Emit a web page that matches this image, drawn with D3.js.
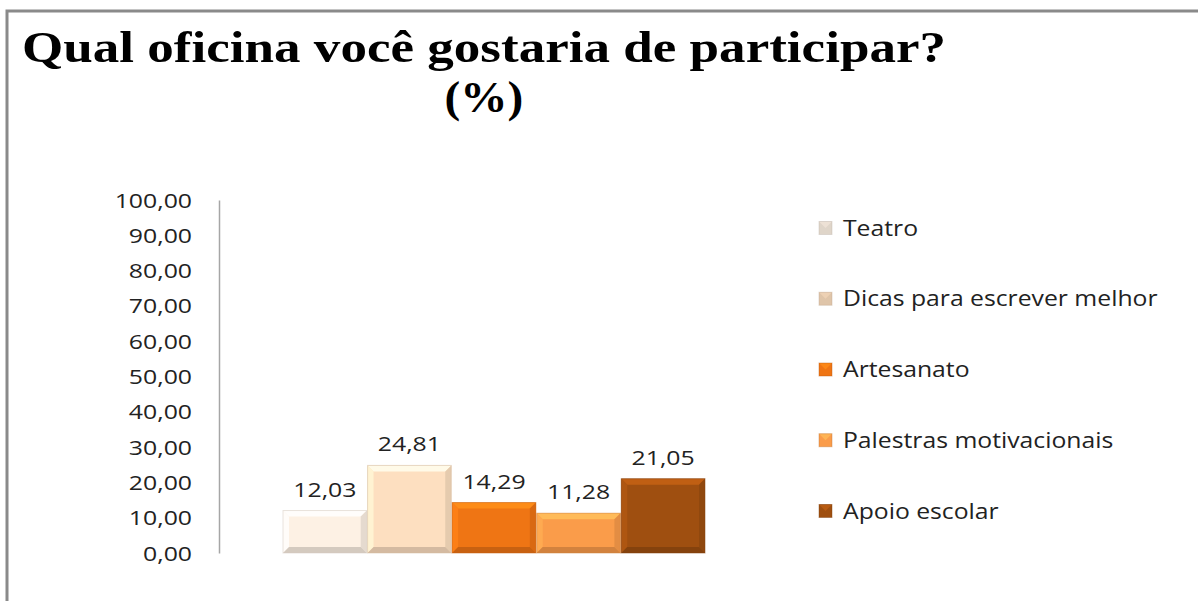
<!DOCTYPE html>
<html><head><meta charset="utf-8">
<script src="https://cdn.jsdelivr.net/npm/d3@7"></script>
<style>body{margin:0;background:#fff}svg{display:block}</style>
</head><body>
<svg id="c" width="1198" height="601"></svg>
<script>
const categories = ["Teatro","Dicas para escrever melhor","Artesanato","Palestras motivacionais","Apoio escolar"];
const values = [12.03, 24.81, 14.29, 11.28, 21.05];
const colors = ["#FDF1E4","#FDDFC0","#EF7514","#FA9C4A","#9F4F10"];
const yTicks = [0,10,20,30,40,50,60,70,80,90,100];
const titleLines = ["Qual oficina você gostaria de participar?","(%)"];

const svg = d3.select("#c");
const loc = d3.formatLocale({decimal:",",thousands:".",grouping:[3],currency:["",""]});
const fmt = loc.format(".2f");

function stretch(sel,k){
  sel.each(function(){
    const w=this.getComputedTextLength();
    this.setAttribute("textLength",w*k);
    this.setAttribute("lengthAdjust","spacingAndGlyphs");
  });
}

// frame
svg.append("path").attr("d","M7,601 L7,11 L1198,11")
  .attr("fill","none").attr("stroke","#8a8a8a").attr("stroke-width",3);

// title
const t1 = svg.append("text").attr("x",484).attr("y",62).attr("text-anchor","middle")
  .attr("font-family","Liberation Serif, Times New Roman, serif").attr("font-weight","bold")
  .attr("font-size",45).attr("fill","#000").text(titleLines[0]);
t1.attr("textLength",924).attr("lengthAdjust","spacingAndGlyphs");
const t2 = svg.append("text").attr("x",484).attr("y",112).attr("text-anchor","middle")
  .attr("font-family","Liberation Serif, Times New Roman, serif").attr("font-weight","bold")
  .attr("font-size",45).attr("fill","#000").text(titleLines[1]);
stretch(t2,1.05);

// scales
const y = d3.scaleLinear().domain([0,100]).range([553,200]);
const x = d3.scaleBand().domain(categories).range([283,705]).paddingInner(0.01);

// axis
const axisG = svg.append("g").attr("transform","translate(219,0)")
  .call(d3.axisLeft(y).tickValues(yTicks).tickFormat(fmt).tickSize(0).tickPadding(27));
axisG.select(".domain").attr("stroke","#a6a6a6").attr("stroke-width",1.5);
axisG.selectAll("text").attr("font-family","Open Sans, sans-serif").attr("font-size",20)
  .attr("fill","#222").attr("dy","0.35em").call(stretch,1.24);

// bars with bevel
const bev = 6;
const bars = svg.append("g");
categories.forEach((c,i)=>{
  const x0=x(c), x1=x(c)+x.bandwidth(), y0=y(values[i]), y1=y(0);
  const col=d3.color(colors[i]);
  const g=bars.append("g");
  g.append("rect").attr("x",x0).attr("y",y0).attr("width",x1-x0).attr("height",y1-y0).attr("fill",colors[i]);
  const pts=(a)=>a.map(p=>p.join(",")).join(" ");
  g.append("polygon").attr("points",pts([[x0,y0],[x1,y0],[x1-bev,y0+bev],[x0+bev,y0+bev]]))
    .attr("fill",col.brighter(0.6)).attr("opacity",0.85);
  g.append("polygon").attr("points",pts([[x0,y0],[x0+bev,y0+bev],[x0+bev,y1-bev],[x0,y1]]))
    .attr("fill",col.brighter(0.3)).attr("opacity",0.8);
  g.append("polygon").attr("points",pts([[x1,y0],[x1,y1],[x1-bev,y1-bev],[x1-bev,y0+bev]]))
    .attr("fill",col.darker(0.35)).attr("opacity",0.8);
  g.append("polygon").attr("points",pts([[x0,y1],[x0+bev,y1-bev],[x1-bev,y1-bev],[x1,y1]]))
    .attr("fill",col.darker(0.6)).attr("opacity",0.85);
  g.append("rect").attr("x",x0).attr("y",y0).attr("width",x1-x0).attr("height",y1-y0)
    .attr("fill","none").attr("stroke",col.darker(0.5)).attr("stroke-opacity",0.5).attr("stroke-width",1);
});

// value labels
svg.append("g").selectAll("text").data(values).join("text")
  .attr("x",(d,i)=>x(categories[i])+x.bandwidth()/2)
  .attr("y",d=>y(d)-14)
  .attr("text-anchor","middle").attr("font-family","Open Sans, sans-serif").attr("font-size",20)
  .attr("fill","#222").text(d=>fmt(d)).call(stretch,1.24);

// legend
const leg = svg.append("g");
const legY = d3.scalePoint().domain(categories).range([228,511]);
categories.forEach((c,i)=>{
  const cy=legY(c);
  const col=d3.color(colors[i]);
  const s=13, lx=819, ly=cy-6.5;
  leg.append("rect").attr("x",lx).attr("y",ly).attr("width",s).attr("height",s).attr("fill",i<2?col.darker(0.35):colors[i]);
  leg.append("polygon").attr("points",`${lx},${ly} ${lx+s},${ly} ${lx+s/2},${ly+s/2}`).attr("fill",i<2?col.darker(0.15):col.brighter(0.5)).attr("opacity",0.8);
  leg.append("rect").attr("x",lx).attr("y",ly).attr("width",s).attr("height",s).attr("fill","none").attr("stroke",col.darker(0.8)).attr("stroke-opacity",0.4);
  leg.append("text").attr("x",843).attr("y",cy).attr("dy","0.35em")
    .attr("font-family","Open Sans, sans-serif").attr("font-size",21.5).attr("fill","#222")
    .text(c).call(stretch,1.15);
});
</script>
</body></html>
